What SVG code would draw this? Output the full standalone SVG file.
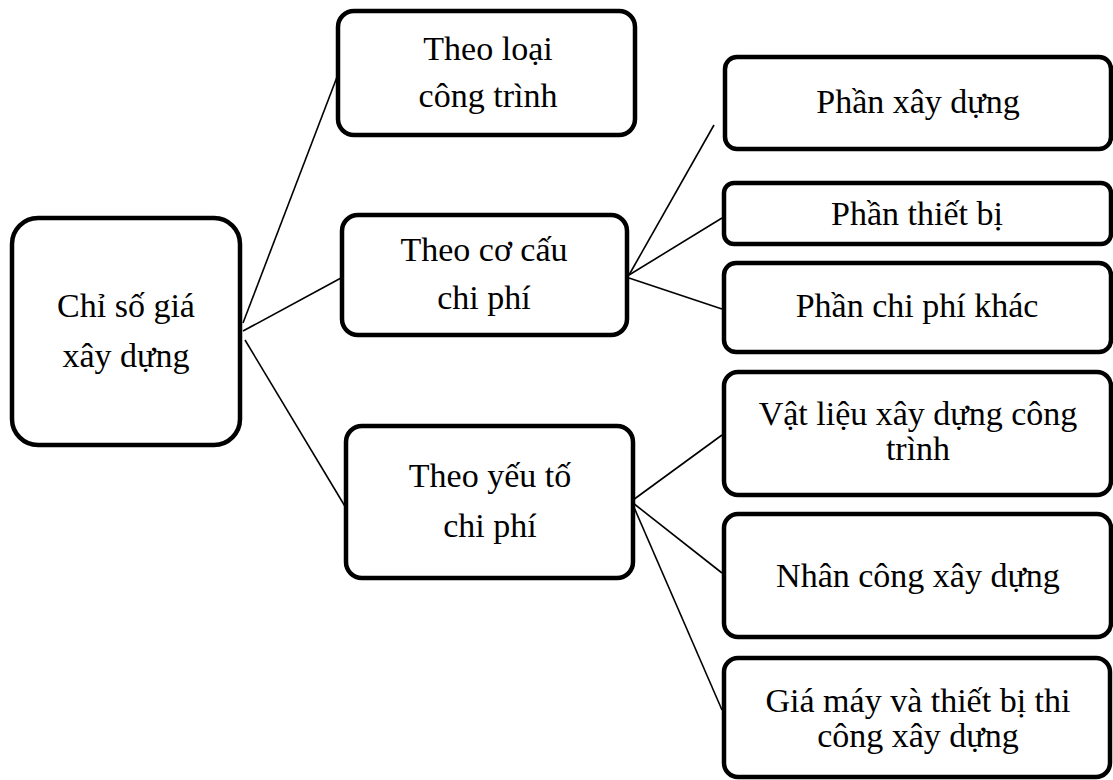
<svg xmlns="http://www.w3.org/2000/svg" width="1113" height="780" viewBox="0 0 1113 780">
  <style>
    .box { fill: #ffffff; stroke: #000000; stroke-width: 4.5; }
    .lbl { font-family: "Liberation Serif", "Times New Roman", serif; font-size: 34px; fill: #000000; text-anchor: middle; }
    .link { stroke: #000000; stroke-width: 1.6; fill: none; }
  </style>
  <rect width="1113" height="780" fill="#ffffff"/>

  <!-- connectors -->
  <g id="connectors">
    <line class="link" x1="243" y1="323" x2="337" y2="77"/>
    <line class="link" x1="243" y1="331" x2="341" y2="278"/>
    <line class="link" x1="245" y1="340" x2="346" y2="508"/>
    <line class="link" x1="629" y1="275" x2="714" y2="125"/>
    <line class="link" x1="629" y1="275" x2="722" y2="218"/>
    <line class="link" x1="629" y1="278" x2="722" y2="309"/>
    <line class="link" x1="633" y1="500" x2="722" y2="435"/>
    <line class="link" x1="633" y1="503" x2="722" y2="573"/>
    <line class="link" x1="633" y1="505" x2="722" y2="710"/>
  </g>

  <!-- root -->
  <g id="node-chi-so-gia">
    <rect class="box" x="12" y="218" width="228" height="227" rx="26"/>
    <text class="lbl" x="126" y="317">Chỉ số giá</text>
    <text class="lbl" x="126" y="367">xây dựng</text>
  </g>

  <!-- level 1 -->
  <g id="node-theo-loai">
    <rect class="box" x="338" y="11" width="297" height="124" rx="16"/>
    <text class="lbl" x="488" y="60">Theo loại</text>
    <text class="lbl" x="488" y="107">công trình</text>
  </g>
  <g id="node-theo-co-cau">
    <rect class="box" x="342" y="215" width="285" height="120" rx="16"/>
    <text class="lbl" x="484" y="261">Theo cơ cấu</text>
    <text class="lbl" x="484" y="309">chi phí</text>
  </g>
  <g id="node-theo-yeu-to">
    <rect class="box" x="346" y="426" width="287" height="152" rx="16"/>
    <text class="lbl" x="490" y="487">Theo yếu tố</text>
    <text class="lbl" x="490" y="537">chi phí</text>
  </g>

  <!-- level 2: by cost structure -->
  <g id="node-phan-xay-dung">
    <rect class="box" x="725" y="57" width="386" height="92" rx="12"/>
    <text class="lbl" x="918" y="113">Phần xây dựng</text>
  </g>
  <g id="node-phan-thiet-bi">
    <rect class="box" x="724" y="183" width="387" height="61" rx="10"/>
    <text class="lbl" x="917" y="225">Phần thiết bị</text>
  </g>
  <g id="node-phan-chi-phi-khac">
    <rect class="box" x="724" y="263" width="387" height="89" rx="12"/>
    <text class="lbl" x="917" y="317">Phần chi phí khác</text>
  </g>

  <!-- level 2: by cost element -->
  <g id="node-vat-lieu">
    <rect class="box" x="724" y="372" width="387" height="123" rx="14"/>
    <text class="lbl" x="918" y="425">Vật liệu xây dựng công</text>
    <text class="lbl" x="918" y="460">trình</text>
  </g>
  <g id="node-nhan-cong">
    <rect class="box" x="724" y="514" width="387" height="123" rx="14"/>
    <text class="lbl" x="918" y="587">Nhân công xây dựng</text>
  </g>
  <g id="node-gia-may">
    <rect class="box" x="724" y="658" width="386" height="119" rx="14"/>
    <text class="lbl" x="918" y="712">Giá máy và thiết bị thi</text>
    <text class="lbl" x="918" y="747">công xây dựng</text>
  </g>
</svg>
